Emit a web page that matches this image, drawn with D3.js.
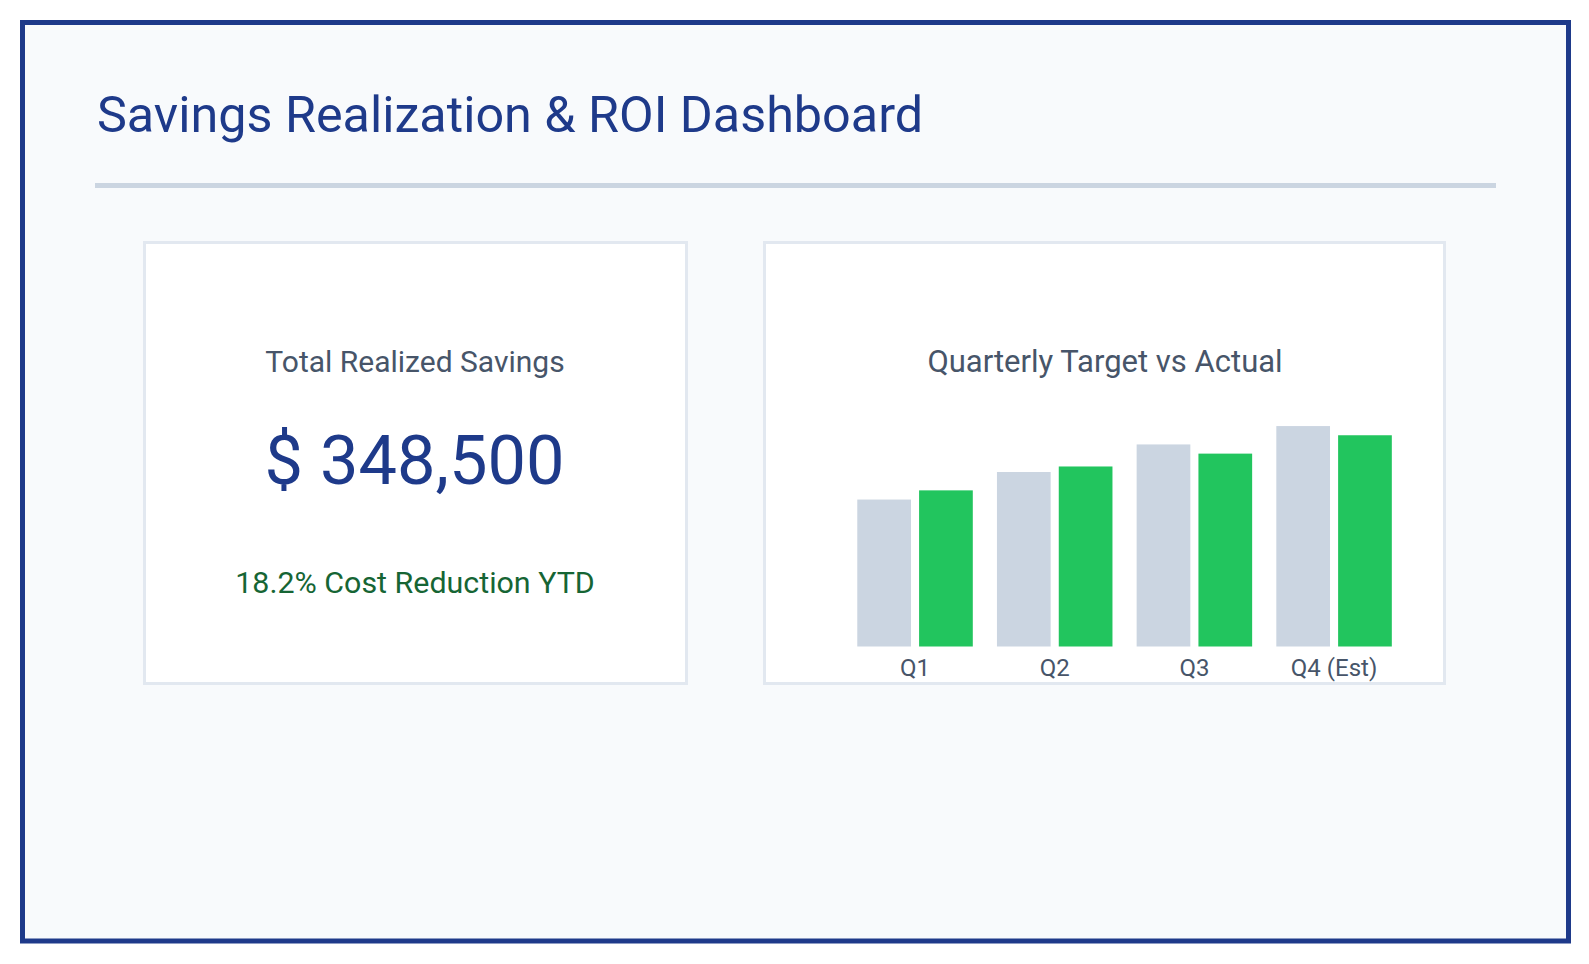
<!DOCTYPE html>
<html>
<head>
<meta charset="utf-8">
<script src="https://cdn.jsdelivr.net/npm/d3@7"></script>
<style>
  body { margin: 0; background: #ffffff; }
  svg text { font-family: Roboto, "Noto Sans", sans-serif; }
</style>
</head>
<body>
<div id="graf"></div>
<script>
// datos
const quarters = ["Q1", "Q2", "Q3", "Q4 (Est)"]
const target = [80, 95, 110, 120]   // miles de $
const actual = [85, 98, 105, 115]
const series = ["target", "actual"]
const colores = { target: "#cbd5e1", actual: "#22c55e" }

const titulo = "Savings Realization & ROI Dashboard"
const kpiLabel = "Total Realized Savings"
const kpiValue = "$ 348,500"
const kpiSub = "18.2% Cost Reduction YTD"
const chartTitle = "Quarterly Target vs Actual"

const anchoTotal = 1589
const altoTotal = 964

const svg = d3.select("#graf")
  .append("svg")
  .attr("width", anchoTotal)
  .attr("height", altoTotal)

// marco
svg.append("rect")
  .attr("x", 22.5).attr("y", 22.5)
  .attr("width", 1546).attr("height", 918.5)
  .attr("fill", "#f8fafc")
  .attr("stroke", "#1e3a8a")
  .attr("stroke-width", 5)

svg.append("text")
  .attr("x", 97).attr("y", 132)
  .attr("fill", "#1e3a8a")
  .attr("font-size", 50.3)
  .text(titulo)

svg.append("line")
  .attr("x1", 95).attr("x2", 1496)
  .attr("y1", 185.5).attr("y2", 185.5)
  .attr("stroke", "#cbd5e1")
  .attr("stroke-width", 5)

// tarjetas
const card = (x, y, w, h) => svg.append("rect")
  .attr("x", x).attr("y", y).attr("width", w).attr("height", h)
  .attr("fill", "#ffffff")
  .attr("stroke", "#e2e8f0")
  .attr("stroke-width", 3)

card(144.5, 242.5, 542, 441)
card(764.5, 242.5, 680, 441)

// KPI
const kpi = svg.append("g").attr("text-anchor", "middle")
kpi.append("text").attr("x", 415).attr("y", 372)
  .attr("fill", "#475569").attr("font-size", 30).text(kpiLabel)
kpi.append("text").attr("x", 414.5).attr("y", 484)
  .attr("fill", "#1e3a8a").attr("font-size", 68.5).text(kpiValue)
kpi.append("text").attr("x", 415).attr("y", 593)
  .attr("fill", "#166534").attr("font-size", 30.4).text(kpiSub)

svg.append("text")
  .attr("x", 1105).attr("y", 372)
  .attr("text-anchor", "middle")
  .attr("fill", "#475569").attr("font-size", 31)
  .text(chartTitle)

// barras
const data = quarters.map((q, i) => ({ q, target: target[i], actual: actual[i] }))

const x0 = d3.scaleBand().domain(quarters)
  .range([845.2, 1403.9]).paddingInner(0.173).paddingOuter(0.0865)
const x1 = d3.scaleBand().domain(series)
  .range([0, x0.bandwidth()]).paddingInner(0.131)
const y = d3.scaleLinear().domain([0, 130]).range([646.5, 407.7])

const g = svg.append("g")

g.selectAll("g.grupo").data(data)
  .enter().append("g")
  .attr("class", "grupo")
  .attr("transform", (d) => `translate(${x0(d.q)},0)`)
  .selectAll("rect")
  .data((d) => series.map((s) => ({ s, v: d[s] })))
  .enter().append("rect")
  .attr("x", (d) => x1(d.s))
  .attr("y", (d) => y(d.v))
  .attr("width", x1.bandwidth())
  .attr("height", (d) => y(0) - y(d.v))
  .attr("fill", (d) => colores[d.s])

const xAxis = d3.axisBottom(x0).tickSize(0).tickPadding(12)
const ejeX = g.append("g")
  .attr("transform", `translate(0, ${y(0)})`)
  .call(xAxis)
ejeX.select(".domain").remove()
ejeX.selectAll("text")
  .attr("fill", "#475569")
  .attr("font-size", 24)
  .attr("font-family", "Roboto, Noto Sans, sans-serif")
</script>
</body>
</html>
